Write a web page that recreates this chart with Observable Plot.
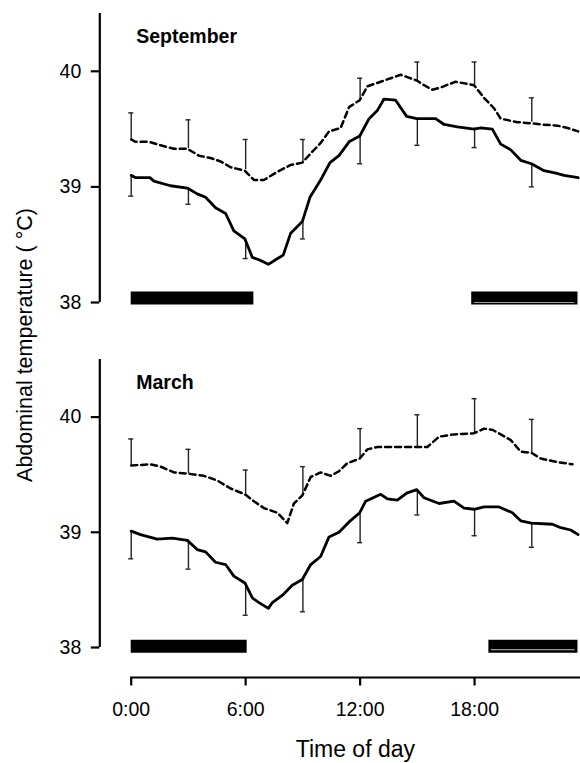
<!DOCTYPE html>
<html><head><meta charset="utf-8">
<script src="https://cdn.jsdelivr.net/npm/d3@7"></script>
<script src="https://cdn.jsdelivr.net/npm/@observablehq/plot@0.6"></script>
<style>
body{margin:0;background:#fff;}
#wrap{position:relative;width:580px;height:763px;font-family:"Liberation Sans",Arial,sans-serif;background:#fff;}
#wrap svg{display:block;}
#ylab{position:absolute;left:25px;top:345px;transform:translate(-50%,-50%) rotate(-90deg);white-space:nowrap;font-size:21.5px;z-index:2;color:#000;}
</style></head><body><div id="wrap"><div id="ylab">Abdominal temperature ( °C)</div></div>
<script>
// ---- data ----
const xTicks = [0, 6, 12, 18];
const yTicks = [38, 39, 40];
const yDomain = [38, 40.5];
const xDomain = [0, 23.5];
const errT = [0, 3, 6, 9, 12, 15, 18, 21];

// September
const sepSolidT = [0,0.23,0.98,1.19,2.06,2.94,3.46,3.90,4.42,4.95,5.38,5.96,6.35,6.70,7.19,7.57,7.97,8.36,8.97,9.37,9.93,10.42,10.89,11.42,11.98,12.47,12.90,13.25,13.86,14.44,14.97,15.96,16.40,17.10,17.97,18.32,18.93,19.37,19.90,20.42,20.98,21.64,22.26,22.69,23.43];
const sepSolidV = [39.10,39.08,39.08,39.05,39.01,38.99,38.94,38.91,38.82,38.77,38.62,38.55,38.39,38.37,38.33,38.37,38.41,38.60,38.70,38.91,39.06,39.21,39.27,39.39,39.44,39.59,39.66,39.76,39.75,39.61,39.59,39.59,39.54,39.52,39.50,39.51,39.50,39.37,39.32,39.23,39.20,39.14,39.12,39.10,39.08];
const sepDashT = [0,0.23,0.93,1.54,2.24,2.94,3.55,4.16,4.69,5.21,5.96,6.43,6.96,7.66,8.36,8.97,9.41,9.93,10.37,10.98,11.42,11.98,12.38,13.08,13.60,14.13,14.97,15.35,15.79,16.22,17.01,17.97,18.50,19.02,19.37,20.24,20.98,21.47,22.34,22.87,23.43];
const sepDashV = [39.41,39.39,39.39,39.36,39.33,39.33,39.27,39.25,39.22,39.17,39.14,39.06,39.06,39.13,39.19,39.21,39.29,39.38,39.48,39.51,39.69,39.75,39.87,39.91,39.94,39.97,39.92,39.88,39.84,39.86,39.91,39.88,39.77,39.68,39.59,39.56,39.55,39.54,39.53,39.51,39.48];
const sepDashMean = [39.41,39.33,39.15,39.21,39.75,39.92,39.88,39.56];
const sepDashHi   = [39.64,39.58,39.41,39.41,39.94,40.08,40.08,39.77];
const sepSolidMean = [39.10,38.99,38.55,38.70,39.44,39.59,39.51,39.20];
const sepSolidLo   = [38.92,38.85,38.38,38.55,39.20,39.36,39.34,39.00];
const sepDark = [[0, 6.43], [17.85, 23.42]];

// March
const marSolidT = [0,0.49,1.36,2.15,2.94,3.46,3.90,4.42,4.95,5.38,5.96,6.35,6.70,7.19,7.40,7.97,8.44,8.97,9.41,9.93,10.37,10.89,11.42,11.98,12.29,13.08,13.43,13.95,14.44,14.97,15.35,16.14,16.92,17.45,17.97,18.50,19.28,19.98,20.42,20.98,22.08,22.52,23.04,23.43];
const marSolidV = [39.01,38.98,38.94,38.95,38.93,38.85,38.83,38.74,38.72,38.62,38.56,38.43,38.39,38.34,38.39,38.46,38.54,38.59,38.72,38.79,38.96,39.00,39.09,39.17,39.27,39.33,39.29,39.28,39.34,39.37,39.30,39.25,39.27,39.21,39.20,39.22,39.22,39.17,39.10,39.08,39.07,39.04,39.02,38.98];
const marDashT = [0,1.01,1.54,2.24,2.94,3.81,4.51,5.21,5.96,6.43,6.96,7.66,8.18,8.53,8.97,9.41,9.93,10.45,10.89,11.33,11.98,12.38,12.90,13.60,14.97,15.52,16.14,16.92,17.97,18.50,18.93,19.37,19.90,20.42,20.98,21.47,22.34,23.13];
const marDashV = [39.58,39.59,39.57,39.52,39.51,39.49,39.45,39.38,39.33,39.27,39.21,39.17,39.08,39.25,39.32,39.48,39.52,39.49,39.53,39.60,39.64,39.72,39.74,39.74,39.74,39.74,39.83,39.85,39.86,39.90,39.89,39.85,39.80,39.70,39.69,39.64,39.61,39.59];
const marDashMean = [39.58,39.51,39.33,39.32,39.64,39.74,39.86,39.69];
const marDashHi   = [39.81,39.72,39.54,39.57,39.90,40.02,40.16,39.98];
const marSolidMean = [39.01,38.93,38.56,38.59,39.17,39.37,39.20,39.08];
const marSolidLo   = [38.77,38.68,38.28,38.31,38.91,39.15,38.97,38.87];
const marDark = [[0, 6.08], [18.75, 23.42]];

// ---- drawing ----
const FONT = "'Liberation Sans', Arial, sans-serif";
const pts = (T, V) => T.map((t, i) => ({t, v: V[i]}));
const errs = (M, E) => errT.map((t, i) => ({t, m: M[i], e: E[i]}));

function panel(o) {
  const axisDx = -31.4;
  const marks = [
    Plot.ruleX([0], {y1: yDomain[0], y2: yDomain[1], dx: axisDx, strokeWidth: 2.2, stroke: "#000"}),
    Plot.axisY({ticks: yTicks, tickSize: 8.5, tickPadding: 10, dx: axisDx, fontSize: 19.5, strokeWidth: 2.2, label: null, tickFormat: d => String(d), fill: "#000"}),
    Plot.ruleY(o.dark, {x1: d => d[0], x2: d => d[1], y: () => yDomain[0], strokeWidth: 13, stroke: "#000", dy: o.barDy}),
    Plot.ruleY([o.dark[1]], {x1: d => d[0], x2: d => d[1], y: () => yDomain[0], strokeWidth: 1.2, stroke: "#9a9a9a", insetLeft: 2.5, insetRight: 3, dy: o.grayDy}),
    Plot.ruleX(errs(o.dashMean, o.dashHi), {x: "t", y1: "m", y2: "e", stroke: "#222", strokeWidth: 1.4}),
    Plot.ruleY(errs(o.dashMean, o.dashHi), {y: "e", x1: "t", x2: "t", insetLeft: -2.5, insetRight: -2.5, stroke: "#222", strokeWidth: 1.4}),
    Plot.ruleX(errs(o.solidMean, o.solidLo), {x: "t", y1: "m", y2: "e", stroke: "#222", strokeWidth: 1.4}),
    Plot.ruleY(errs(o.solidMean, o.solidLo), {y: "e", x1: "t", x2: "t", insetLeft: -2.5, insetRight: -2.5, stroke: "#222", strokeWidth: 1.4}),
    Plot.line(pts(o.dashT, o.dashV), {x: "t", y: "v", stroke: "#000", strokeWidth: 2.5, strokeDasharray: "6,4"}),
    Plot.line(pts(o.solidT, o.solidV), {x: "t", y: "v", stroke: "#000", strokeWidth: 2.8}),
    Plot.text([o.name], {text: d => d, frameAnchor: "top-left", dx: 5, dy: 23, textAnchor: "start", lineAnchor: "middle", fontWeight: "bold", fontSize: 19.5, fill: "#000"})
  ];
  if (o.showX) {
    marks.push(
      Plot.frame({anchor: "bottom", strokeWidth: 2.2, stroke: "#000"}),
      Plot.axisX({ticks: xTicks, tickSize: 8.5, tickPadding: 16, fontSize: 19.5, strokeWidth: 2.2, label: null, tickFormat: d => `${d}:00`, fill: "#000"}),
      Plot.text(["Time of day"], {text: d => d, frameAnchor: "bottom", dy: 72, lineAnchor: "middle", fontSize: 23, fill: "#000"})
    );
  }
  return Plot.plot({
    width: 580,
    height: o.height,
    marginLeft: 130.7,
    marginRight: 1,
    marginTop: o.marginTop,
    marginBottom: o.marginBottom,
    style: {fontFamily: FONT, background: "transparent", color: "#000", overflow: "visible"},
    x: {domain: xDomain, axis: null},
    y: {domain: yDomain, insetBottom: o.insetBottom, axis: null},
    marks
  });
}

const wrap = document.getElementById("wrap");
wrap.appendChild(panel({
  name: "September", height: 320, marginTop: 13, marginBottom: 18, insetBottom: 0,
  solidT: sepSolidT, solidV: sepSolidV, dashT: sepDashT, dashV: sepDashV,
  dashMean: sepDashMean, dashHi: sepDashHi, solidMean: sepSolidMean, solidLo: sepSolidLo,
  dark: sepDark, barDy: -4.5, grayDy: 0, showX: false
}));
wrap.appendChild(panel({
  name: "March", height: 443, marginTop: 39, marginBottom: 86, insetBottom: 30,
  solidT: marSolidT, solidV: marSolidV, dashT: marDashT, dashV: marDashV,
  dashMean: marDashMean, dashHi: marDashHi, solidMean: marSolidMean, solidLo: marSolidLo,
  dark: marDark, barDy: -1.3, grayDy: 2.2, showX: true
}));
</script></body></html>
